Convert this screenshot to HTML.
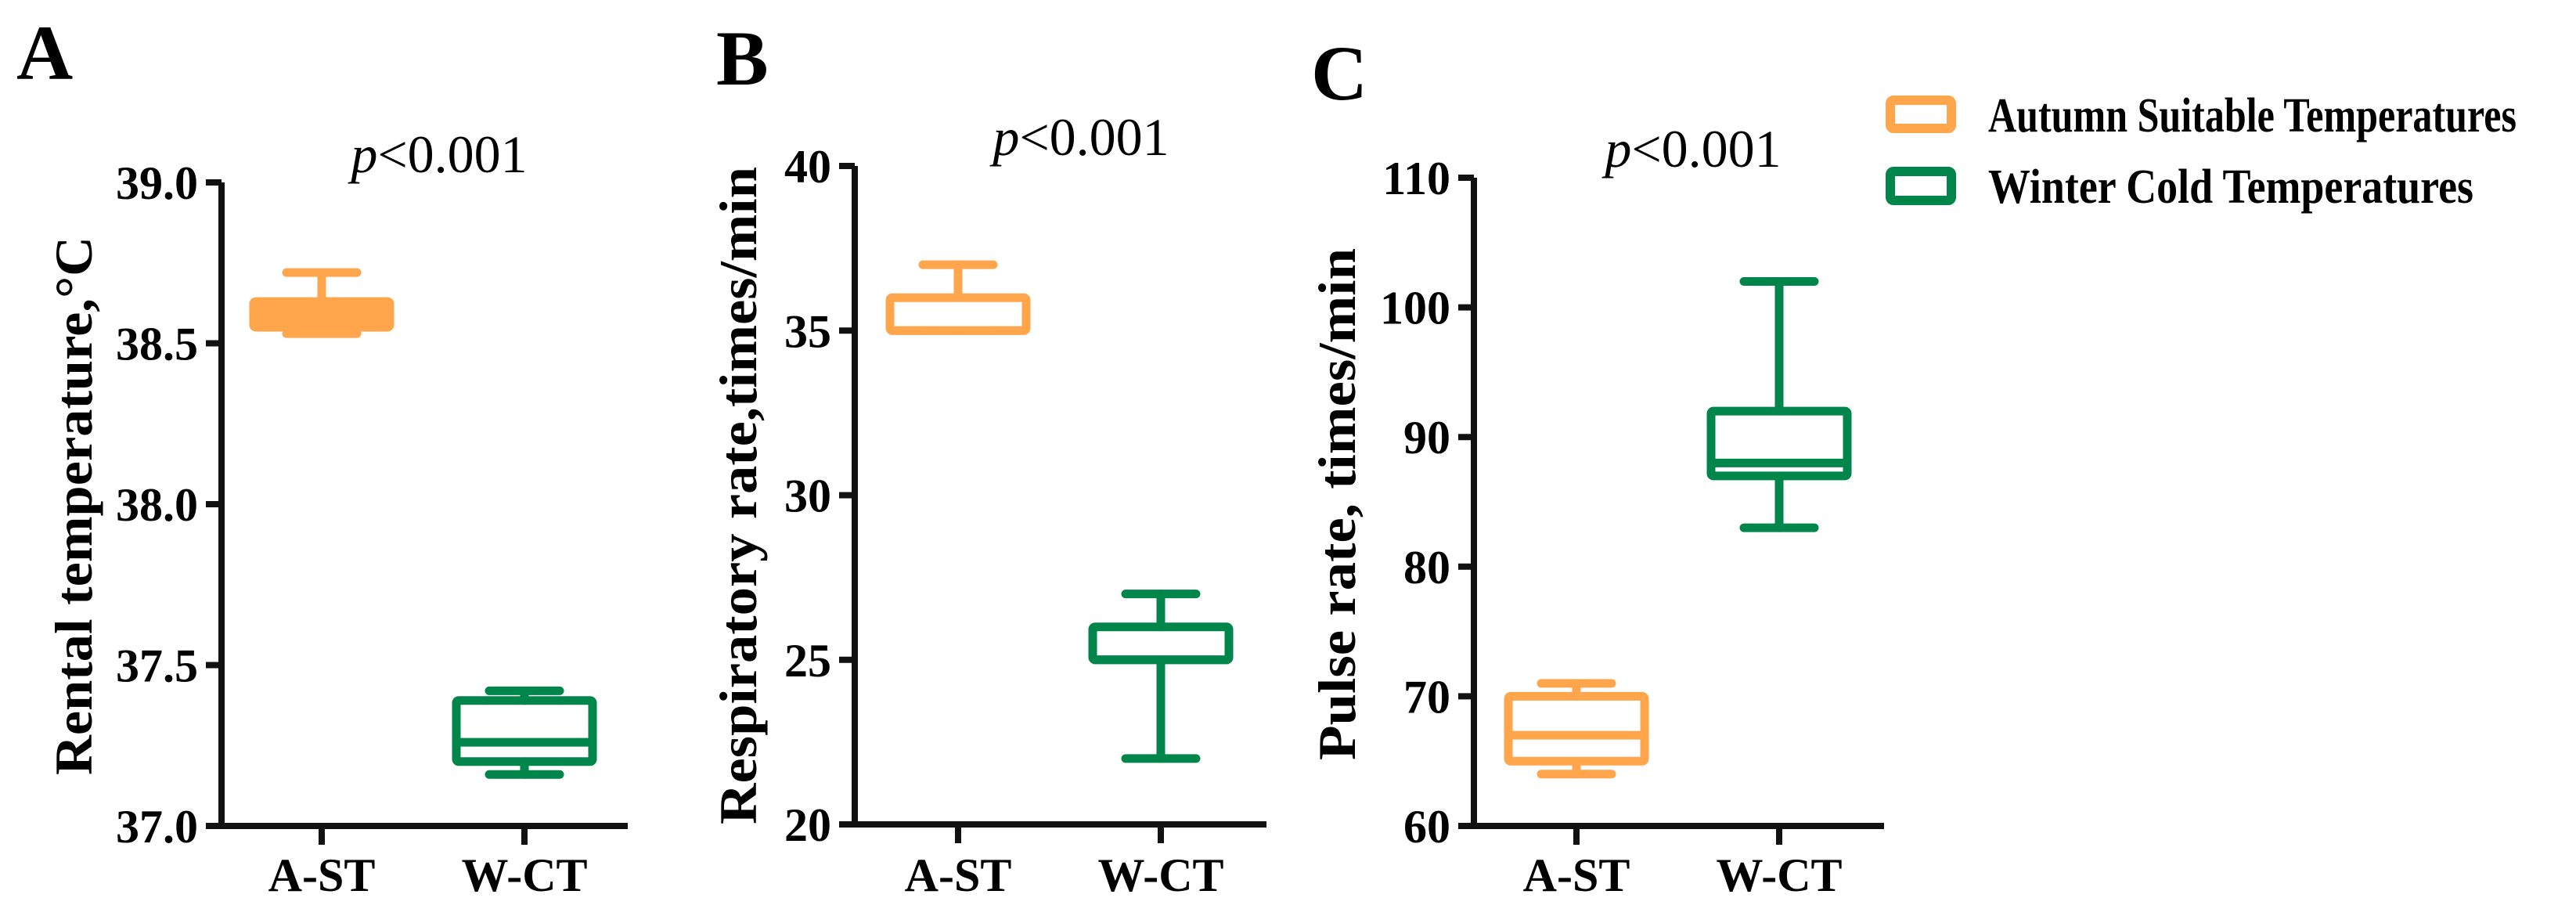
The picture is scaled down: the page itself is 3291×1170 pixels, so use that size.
<!DOCTYPE html>
<html><head><meta charset="utf-8"><style>
html,body{margin:0;padding:0;background:#fff;}
svg{display:block;}
text{font-family:"Liberation Serif",serif;}
</style></head>
<body>
<svg id="fig" width="3291" height="1170" viewBox="0 0 3291 1170" xmlns="http://www.w3.org/2000/svg">
<g id="legend">
  <rect x="2415" y="128" width="78" height="36" rx="4" fill="none" stroke="#FFA64D" stroke-width="12"/>
  <text x="2540" y="168" font-size="62" font-weight="bold" textLength="675" lengthAdjust="spacingAndGlyphs">Autumn Suitable Temperatures</text>
  <rect x="2415" y="219" width="78" height="37" rx="4" fill="none" stroke="#00854A" stroke-width="12"/>
  <text x="2540" y="259" font-size="62" font-weight="bold" textLength="620" lengthAdjust="spacingAndGlyphs">Winter Cold Temperatures</text>
</g>
</svg>
<script>
// Categories
const categories = ["A-ST", "W-CT"];
const colors = ["#FFA64D", "#00854A"];
// Panel A: rectal temperature [min, q1, median, q3, max]
const tempASt = [38.53, 38.55, 38.60, 38.63, 38.72];
const tempWCt = [37.16, 37.20, 37.26, 37.39, 37.42];
const tempTicks = ["37.0", "37.5", "38.0", "38.5", "39.0"];
// Panel B: respiratory rate
const respASt = [35, 35, 35, 36, 37];
const respWCt = [22, 25, 25, 26, 27];
const respTicks = ["20", "25", "30", "35", "40"];
// Panel C: pulse rate
const pulseASt = [64, 65, 67, 70, 71];
const pulseWCt = [83, 87, 88, 92, 102];
const pulseTicks = ["60", "70", "80", "90", "100", "110"];

const NS = "http://www.w3.org/2000/svg";
const svg = document.getElementById("fig");
function mk(tag, attrs, parent) {
  const e = document.createElementNS(NS, tag);
  for (const k in attrs) e.setAttribute(k, attrs[k]);
  (parent || svg).appendChild(e);
  return e;
}

const panels = [
  {id:"a", letter:"A", lx:21, ly:101, axisX:283, x0:411, endX:802, yTop:233, yBot:1055,
   ticks:tempTicks, data:[tempASt, tempWCt], title:"Rental temperature,°C", tx:95, tcy:646, tlen:688, pX:561, pY:220, filledFirst:true},
  {id:"b", letter:"B", lx:915, ly:108, axisX:1092, x0:1224, endX:1618, yTop:212, yBot:1053,
   ticks:respTicks, data:[respASt, respWCt], title:"Respiratory rate,times/min", tx:944, tcy:633, tlen:840, pX:1381, pY:198},
  {id:"c", letter:"C", lx:1675, ly:127, axisX:1883, x0:2014, endX:2407, yTop:227, yBot:1055,
   ticks:pulseTicks, data:[pulseASt, pulseWCt], title:"Pulse rate, times/min", tx:1709, tcy:644, tlen:654, pX:2163, pY:213}
];
const spacing = 259;

panels.forEach(p => {
  const g = mk("g", {});
  
  
  const tmin = parseFloat(p.ticks[0]), tmax = parseFloat(p.ticks[p.ticks.length-1]);
  const y = v => p.yBot - (v - tmin) / (tmax - tmin) * (p.yBot - p.yTop);
  const x = i => p.x0 + i * spacing;

  const L = mk("text", {x:p.lx, y:p.ly, "font-size":100, "font-weight":"bold"}, g);
  L.textContent = p.letter;
  
  

  const pt = mk("text", {x:p.pX, y:p.pY, "font-size":68, "text-anchor":"middle"}, g);
  pt.innerHTML = '<tspan font-style="italic">p</tspan>&lt;0.001';
  
  

  const yt = mk("text", {x:0, y:0, "font-size":68, "font-weight":"bold", "text-anchor":"middle",
    textLength:p.tlen, lengthAdjust:"spacingAndGlyphs",
    transform:`translate(${p.tx + 22},${p.tcy}) rotate(-90)`}, g);
  yt.textContent = p.title;
  
  

  const ya = mk("line", {x1:p.axisX, y1:y(tmax), x2:p.axisX, y2:p.yBot+4, stroke:"#111", "stroke-width":8}, g);
  
  
  const xa = mk("line", {x1:p.axisX-18, y1:p.yBot, x2:p.endX, y2:p.yBot, stroke:"#111", "stroke-width":8}, g);
  
  

  p.ticks.forEach(t => {
    const v = parseFloat(t);
    const tl = mk("line", {x1:p.axisX-20, y1:y(v), x2:p.axisX, y2:y(v), stroke:"#111", "stroke-width":8}, g);
    
    
    const tx = mk("text", {x:p.axisX-30, y:y(v)+21, "font-size":60, "font-weight":"bold", "text-anchor":"end"}, g);
    tx.textContent = t;
    
    
  });

  categories.forEach((c, i) => {
    const tk = mk("line", {x1:x(i), y1:p.yBot, x2:x(i), y2:p.yBot+24, stroke:"#111", "stroke-width":8}, g);
    
    
    const lb = mk("text", {x:x(i), y:1138, "font-size":60, "font-weight":"bold", "text-anchor":"middle"}, g);
    lb.textContent = c;
    
    

    const d = p.data[i], col = colors[i], cx = x(i);
    const bg = mk("g", {stroke:col, fill:"none", "stroke-width":11, "stroke-linecap":"round"}, g);
    
    
    mk("line", {x1:cx, y1:y(d[4]), x2:cx, y2:y(d[3])}, bg);
    mk("line", {x1:cx, y1:y(d[0]), x2:cx, y2:y(d[1])}, bg);
    mk("line", {x1:cx-45, y1:y(d[4]), x2:cx+45, y2:y(d[4])}, bg);
    mk("line", {x1:cx-45, y1:y(d[0]), x2:cx+45, y2:y(d[0])}, bg);
    const filled = p.filledFirst && i === 0;
    mk("rect", {x:cx-87, y:y(d[3]), width:174, height:Math.max(1, y(d[1]) - y(d[3])), rx:3,
      fill: filled ? col : "none", "stroke-linecap":"butt"}, bg);
    mk("line", {x1:cx-87, y1:y(d[2]), x2:cx+87, y2:y(d[2]), "stroke-linecap":"butt"}, bg);
  });
});
</script>
</body></html>
